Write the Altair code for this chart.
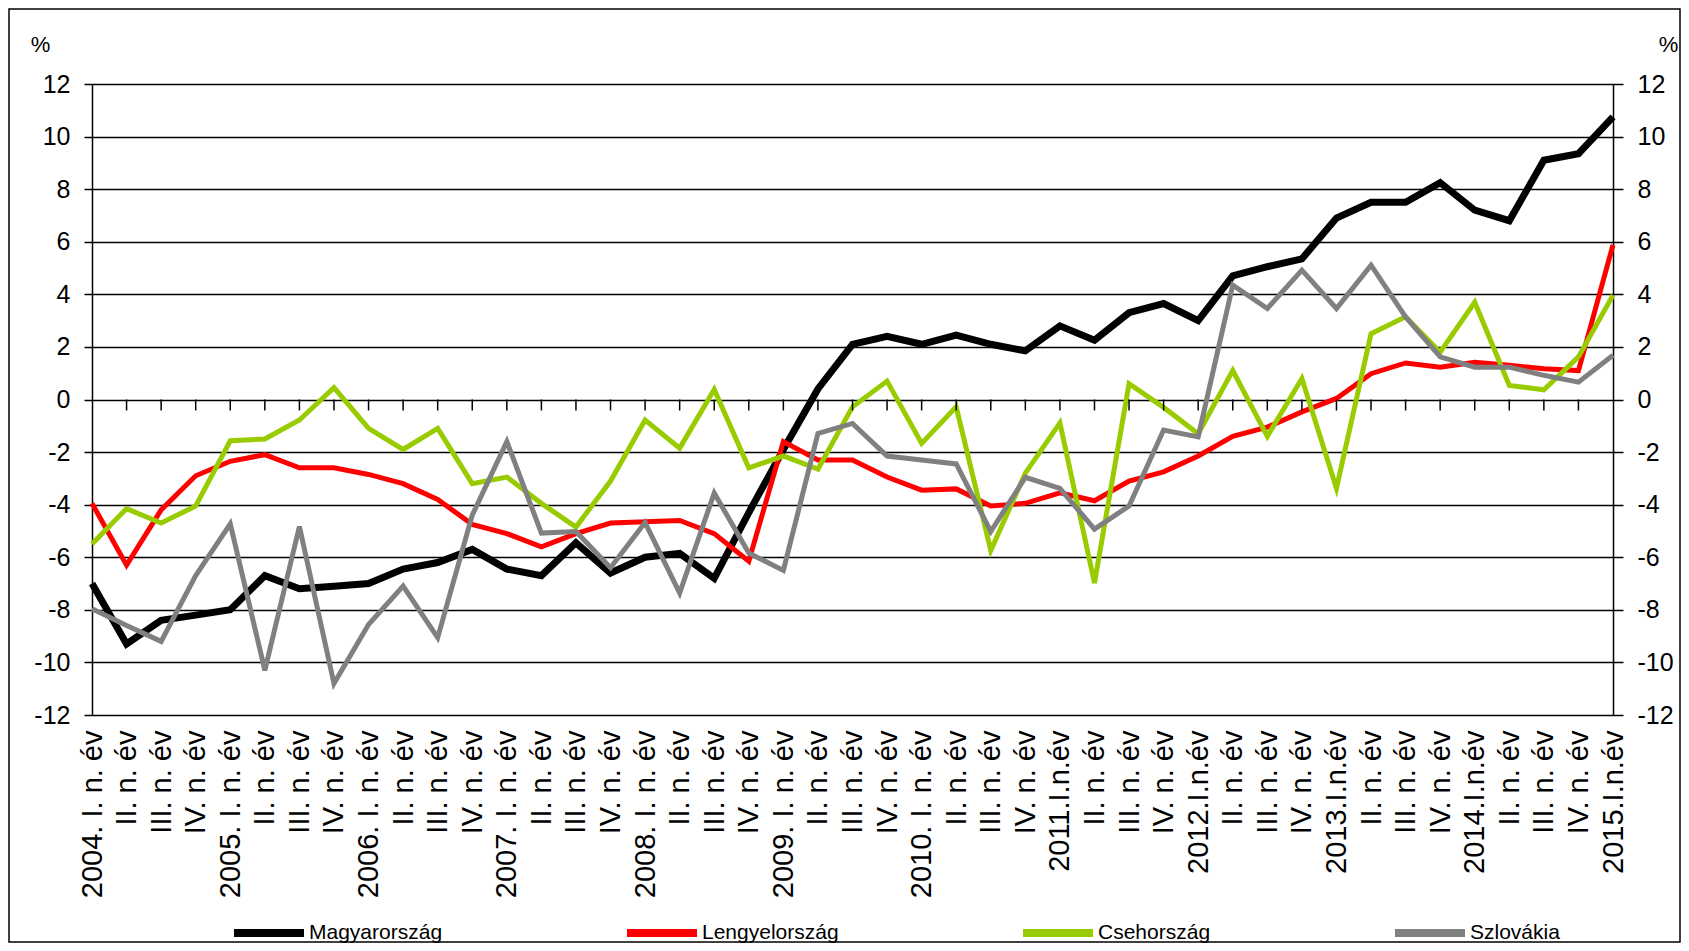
import json
import altair as alt
import pandas as pd

labels = [
    "2004. I. n. év", "II. n. év", "III. n. év", "IV. n. év",
    "2005. I. n. év", "II. n. év", "III. n. év", "IV. n. év",
    "2006. I. n. év", "II. n. év", "III. n. év", "IV. n. év",
    "2007. I. n. év", "II. n. év", "III. n. év", "IV. n. év",
    "2008. I. n. év", "II. n. év", "III. n. év", "IV. n. év",
    "2009. I. n. év", "II. n. év", "III. n. év", "IV. n. év",
    "2010. I. n. év", "II. n. év", "III. n. év", "IV. n. év",
    "2011.I.n.év", "II. n. év", "III. n. év", "IV. n. év",
    "2012.I.n.év", "II. n. év", "III. n. év", "IV. n. év",
    "2013.I.n.év", "II. n. év", "III. n. év", "IV. n. év",
    "2014.I.n.év", "II. n. év", "III. n. év", "IV. n. év",
    "2015.I.n.év",
]

magyarorszag = [
    -7.0, -9.3, -8.4, -8.2, -8.0, -6.7, -7.2, -7.1, -7.0, -6.45,
    -6.2, -5.7, -6.45, -6.7, -5.45, -6.6, -6.0, -5.85, -6.8, -4.3,
    -1.9, 0.4, 2.1, 2.4, 2.1, 2.45, 2.1, 1.85, 2.8, 2.25,
    3.3, 3.65, 3.0, 4.7, 5.05, 5.35, 6.9, 7.5, 7.5, 8.25,
    7.2, 6.8, 9.1, 9.35, 10.75,
]
lengyelorszag = [
    -3.95, -6.3, -4.2, -2.9, -2.35, -2.1, -2.6, -2.6, -2.85, -3.2,
    -3.8, -4.75, -5.1, -5.6, -5.1, -4.7, -4.65, -4.6, -5.1, -6.15,
    -1.6, -2.3, -2.3, -2.95, -3.45, -3.4, -4.05, -3.95, -3.55, -3.85,
    -3.1, -2.75, -2.15, -1.4, -1.05, -0.47, 0.04, 0.98, 1.39, 1.23,
    1.42, 1.3, 1.17, 1.1, 5.88,
]
csehorszag = [
    -5.5, -4.15, -4.7, -4.05, -1.57, -1.5, -0.78, 0.45, -1.1, -1.9,
    -1.1, -3.2, -2.95, -3.95, -4.85, -3.1, -0.78, -1.85, 0.38, -2.6,
    -2.15, -2.65, -0.28, 0.7, -1.67, -0.28, -5.74, -2.8, -0.89, -6.98,
    0.6, -0.3, -1.3, 1.1, -1.4, 0.8, -3.38, 2.5, 3.15, 1.8,
    3.7, 0.53, 0.37, 1.62, 3.97,
]
szlovakia = [
    -7.96, -8.6, -9.2, -6.7, -4.73, -10.3, -4.83, -10.8, -8.56, -7.1,
    -9.06, -4.4, -1.6, -5.08, -5.02, -6.4, -4.68, -7.36, -3.56, -5.84,
    -6.5, -1.29, -0.91, -2.15, -2.3, -2.45, -5.02, -2.96, -3.38, -4.93,
    -4.05, -1.16, -1.42, 4.35, 3.46, 4.92, 3.46, 5.11, 3.14, 1.62,
    1.23, 1.23, 0.92, 0.66, 1.68,
]

series_names = ["Magyarország", "Lengyelország", "Csehország", "Szlovákia"]
series_values = [magyarorszag, lengyelorszag, csehorszag, szlovakia]
series_colors = ["#000000", "#FF0000", "#99CC00", "#808080"]
series_widths = [7, 5, 5, 5]
y_ticks = list(range(-12, 13, 2))

rows = []
for name, vals in zip(series_names, series_values):
    for i, v in enumerate(vals):
        rows.append({"idx": i, "series": name, "value": v})
df = pd.DataFrame(rows)
ticks_df = pd.DataFrame({"idx": list(range(1, len(labels) - 1))})
frame_df = pd.DataFrame({"k": [0]})

W, H = 1521, 631
FONT = "Liberation Sans"

label_expr = json.dumps(labels, ensure_ascii=False) + "[datum.value]"

xscale = alt.Scale(domain=[0, len(labels) - 1], nice=False, zero=False)
yscale = alt.Scale(domain=[-12, 12], nice=False)
color_scale = alt.Scale(domain=series_names, range=series_colors)

x_axis = alt.Axis(
    values=list(range(len(labels))), labelExpr=label_expr, labelAngle=270,
    labelAlign="right", labelBaseline="middle", labelFontSize=29,
    labelFontWeight="normal", labelPadding=15, labelOverlap=False,
    labelFlush=False, labelBound=False, ticks=False, domain=False,
    grid=False, title="", labelColor="black", labelFont=FONT,
)
y_left_axis = alt.Axis(
    values=y_ticks, labelExpr="'' + datum.value", grid=True,
    gridColor="black", gridWidth=1.5,
    domainColor="black", domainWidth=1.5, tickColor="black", tickSize=8,
    tickWidth=1.5, labelFontSize=25, labelPadding=14, labelColor="black",
    labelFont=FONT, title="%", titleAngle=0, titleX=-52, titleY=-40,
    titleAlign="center", titleBaseline="middle", titleFontSize=22,
    titleFontWeight="normal", titleFont=FONT, titleColor="black",
)
y_right_axis = alt.Axis(
    orient="right", values=y_ticks, labelExpr="'' + datum.value", grid=False,
    domainColor="black", domainWidth=1.5, tickColor="black", tickSize=10,
    tickWidth=1.5, labelFontSize=25, labelPadding=14, labelColor="black",
    labelFont=FONT, title="%", titleAngle=0, titleX=55, titleY=-40,
    titleAlign="center", titleBaseline="middle", titleFontSize=22,
    titleFontWeight="normal", titleFont=FONT, titleColor="black",
)
legend = alt.Legend(
    orient="none", legendX=138, legendY=810, direction="horizontal",
    columns=4, columnPadding=168, symbolType="stroke", symbolSize=4900,
    symbolStrokeWidth=8, labelFontSize=21, labelOffset=1, title=None,
    padding=0, labelColor="black", labelFont=FONT,
)

frame = alt.Chart(frame_df).mark_rect(
    fillOpacity=0, stroke="black", strokeWidth=1.5
).encode(
    x=alt.value(-83), x2=alt.value(1588), y=alt.value(-75), y2=alt.value(858)
)

line_layers = []
for name, w in zip(series_names, series_widths):
    line_layers.append(
        alt.Chart(df).transform_filter(alt.datum.series == name)
        .mark_line(strokeWidth=w)
        .encode(
            x=alt.X("idx:Q", scale=xscale, axis=x_axis),
            y=alt.Y("value:Q", scale=yscale, axis=y_left_axis),
            color=alt.Color("series:N", scale=color_scale, legend=legend),
        )
    )

inner = alt.layer(frame, *line_layers)

ticks = alt.Chart(ticks_df).mark_rule(
    color="black", strokeWidth=1.5, y2Offset=11
).encode(
    x=alt.X("idx:Q", scale=xscale, axis=x_axis),
    y=alt.YDatum(0, scale=yscale, axis=y_right_axis),
    y2=alt.Y2Datum(0),
)

chart = alt.layer(inner, ticks).resolve_axis(y="independent").properties(
    width=W, height=H,
    padding={"left": 84, "top": 76, "right": 68, "bottom": 228},
    autosize=alt.AutoSizeParams(type="none"),
).configure_view(strokeWidth=0).configure(font=FONT)

chart.save("out.html", embed_options={"renderer": "svg", "actions": False})
